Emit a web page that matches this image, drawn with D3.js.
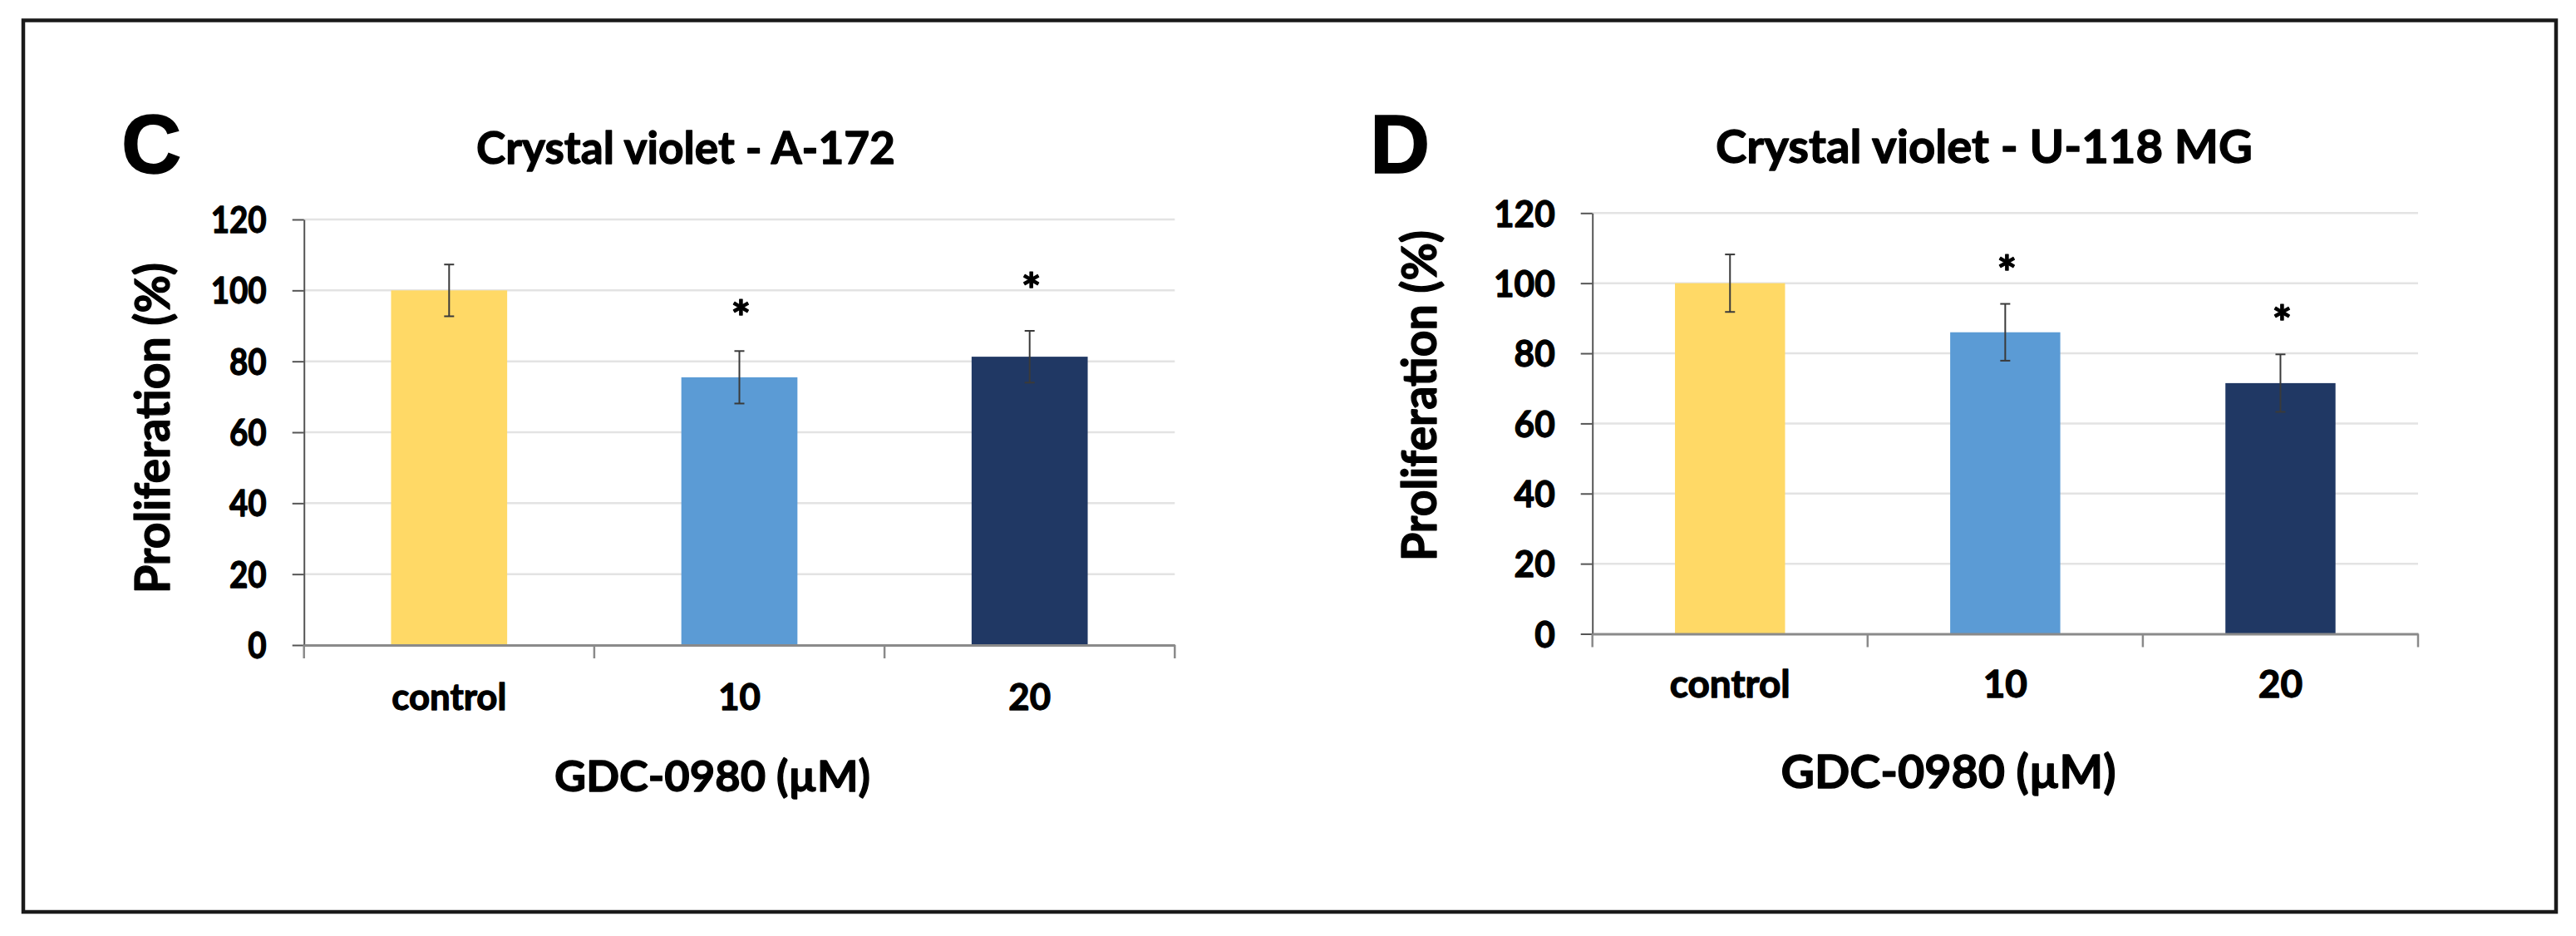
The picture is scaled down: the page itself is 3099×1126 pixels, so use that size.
<!DOCTYPE html>
<html>
<head>
<meta charset="utf-8">
<script src="https://cdn.jsdelivr.net/npm/d3@7/dist/d3.min.js"></script>
<style>
  html, body { margin: 0; padding: 0; background: #ffffff; }
  svg { display: block; }
</style>
</head>
<body>
<svg id="chart" width="3099" height="1126"></svg>
<script>
// ---------------- data ----------------
const categories = ["control", "10", "20"];
const yTicks = [0, 20, 40, 60, 80, 100, 120];
const barColors = ["#FFD966", "#5B9BD5", "#203864"];

const a172Title = "Crystal violet - A-172";
const a172Mean = [100, 75.5, 81.3];
const a172Err  = [7.3, 7.4, 7.3];
const a172Star = [null, 95, 102.8];

const u118Title = "Crystal violet - U-118 MG";
const u118Mean = [100, 86, 71.5];
const u118Err  = [8.2, 8.1, 8.2];
const u118Star = [null, 105.6, 91.4];

const xAxisTitle = "GDC-0980 (µM)";
const yAxisTitle = "Proliferation (%)";
const panelLetters = ["C", "D"];

// ---------------- layout ----------------
const svg = d3.select("#chart");
const CAL = "Lato, 'Open Sans', sans-serif";
const TEXT_STROKE = 1.3;

svg.append("rect")
  .attr("x", 28).attr("y", 24.5)
  .attr("width", 3047).attr("height", 1072.5)
  .attr("fill", "none").attr("stroke", "#1a1a1a").attr("stroke-width", 4.5);

const panels = [
  { letter: panelLetters[0], title: a172Title, mean: a172Mean, err: a172Err, star: a172Star,
    x0: 365.7, x1: 1413.3, yBottom: 776, yTop: 264,
    letterX: 146, letterY: 208,
    titleCx: 825, titleBase: 197, titleW: 504,
    xTitleCx: 857, xTitleBase: 952, xTitleW: 380,
    yTitleX: 204, yTitleCy: 515, yTitleW: 398,
    catBase: 854, ctrlW: 138, numW: 67, numFs: 43 },
  { letter: panelLetters[1], title: u118Title, mean: u118Mean, err: u118Err, star: u118Star,
    x0: 1915.7, x1: 2909, yBottom: 762.5, yTop: 256.3,
    letterX: 1648, letterY: 208,
    titleCx: 2387, titleBase: 196, titleW: 646,
    xTitleCx: 2344, xTitleBase: 948, xTitleW: 403,
    yTitleX: 1728, yTitleCy: 476, yTitleW: 398,
    catBase: 839, ctrlW: 145, numW: 73.7, numFs: 44 }
];

function fitSize(sel, targetW) {
  const base = parseFloat(sel.attr("font-size"));
  const w = sel.node().getComputedTextLength();
  const fs = base * targetW / w;
  sel.attr("font-size", fs);
  return fs;
}
function measure(str, family, weight, size) {
  const t = svg.append("text").attr("font-family", family).attr("font-weight", weight)
    .attr("font-size", size).text(str);
  const w = t.node().getComputedTextLength();
  t.remove();
  return w;
}
function bold(sel) {
  return sel.attr("fill", "#000").attr("stroke", "#000").attr("stroke-width", TEXT_STROKE)
    .attr("stroke-linejoin", "round");
}

panels.forEach(p => {
  const g = svg.append("g");

  const x = d3.scaleBand().domain(categories).range([p.x0, p.x1])
    .paddingInner(0.6).paddingOuter(0.3);
  const y = d3.scaleLinear().domain([0, 120]).range([p.yBottom, p.yTop]);
  const step = x.step();
  const bw = x.bandwidth();

  const catFs = 46 * p.ctrlW / measure("control", CAL, 700, 46);
  const numK = p.numW / measure("120", CAL, 700, p.numFs);

  // gridlines
  g.append("g").selectAll("line")
    .data(yTicks.filter(v => v > 0))
    .join("line")
    .attr("x1", p.x0).attr("x2", p.x1)
    .attr("y1", d => y(d)).attr("y2", d => y(d))
    .attr("stroke", "#e3e3e3").attr("stroke-width", 2.5);

  // bars
  g.append("g").selectAll("rect")
    .data(categories)
    .join("rect")
    .attr("x", d => x(d))
    .attr("width", bw)
    .attr("y", (d, i) => y(p.mean[i]))
    .attr("height", (d, i) => y(0) - y(p.mean[i]))
    .attr("fill", (d, i) => barColors[i]);

  // y axis
  const yAxis = g.append("g")
    .attr("transform", `translate(${p.x0},0)`)
    .call(d3.axisLeft(y).tickValues(yTicks).tickSize(14).tickSizeOuter(0).tickPadding(31));
  yAxis.select(".domain").attr("stroke", "#555").attr("stroke-width", 2);
  yAxis.selectAll(".tick line").attr("stroke", "#555").attr("stroke-width", 2);
  const yLab = yAxis.selectAll(".tick text")
    .attr("font-family", CAL).attr("font-weight", 700)
    .attr("font-size", p.numFs).attr("dy", "0.36em");
  bold(yLab);
  yLab.each(function() {
    const w = this.getComputedTextLength();
    d3.select(this).attr("textLength", w * numK).attr("lengthAdjust", "spacingAndGlyphs");
  });

  // x axis (category labels)
  const xAxis = g.append("g")
    .attr("transform", `translate(0,${p.yBottom})`)
    .call(d3.axisBottom(x).tickSize(0).tickSizeOuter(0));
  xAxis.select(".domain").attr("stroke", "#8a8a8a").attr("stroke-width", 3);
  bold(xAxis.selectAll(".tick text")
    .attr("font-family", CAL).attr("font-weight", 700)
    .attr("font-size", catFs)
    .attr("y", p.catBase - p.yBottom).attr("dy", 0));

  // category boundary ticks
  const bounds = d3.range(categories.length + 1).map(i => p.x0 + i * step);
  g.append("g").selectAll("line")
    .data(bounds)
    .join("line")
    .attr("x1", d => d).attr("x2", d => d)
    .attr("y1", p.yBottom).attr("y2", p.yBottom + 16)
    .attr("stroke", "#8a8a8a").attr("stroke-width", 2.5);

  // error bars
  const eb = g.append("g").attr("stroke", "#3a3a3a").attr("stroke-width", 2).attr("fill", "none");
  categories.forEach((c, i) => {
    const cx = x(c) + bw / 2;
    const top = y(p.mean[i] + p.err[i]);
    const bot = y(p.mean[i] - p.err[i]);
    eb.append("line").attr("x1", cx).attr("x2", cx).attr("y1", top).attr("y2", bot);
    eb.append("line").attr("x1", cx - 6).attr("x2", cx + 6).attr("y1", top).attr("y2", top);
    eb.append("line").attr("x1", cx - 6).attr("x2", cx + 6).attr("y1", bot).attr("y2", bot);
  });

  // significance stars
  const starFs = 56;
  bold(g.append("g").selectAll("text")
    .data(categories.map((c, i) => ({ c, v: p.star[i] })).filter(d => d.v != null))
    .join("text")
    .attr("x", d => x(d.c) + bw / 2 + 2)
    .attr("y", d => y(d.v) + 0.56 * starFs)
    .attr("text-anchor", "middle")
    .attr("font-family", CAL).attr("font-weight", 700)
    .attr("font-size", starFs)
    .text("*"));

  // panel letter
  g.append("text")
    .attr("x", p.letterX).attr("y", p.letterY)
    .attr("font-family", "'Liberation Sans', Arial, sans-serif").attr("font-weight", 700)
    .attr("font-size", 100).attr("fill", "#000")
    .attr("stroke", "#000").attr("stroke-width", 1.5)
    .text(p.letter);

  // chart title
  const t = bold(g.append("text")
    .attr("x", p.titleCx).attr("y", p.titleBase)
    .attr("text-anchor", "middle")
    .attr("font-family", CAL).attr("font-weight", 700)
    .attr("font-size", 56)
    .text(p.title));
  fitSize(t, p.titleW);

  // x axis title
  const xt = bold(g.append("text")
    .attr("x", p.xTitleCx).attr("y", p.xTitleBase)
    .attr("text-anchor", "middle")
    .attr("font-family", CAL).attr("font-weight", 700)
    .attr("font-size", 58)
    .text(xAxisTitle));
  fitSize(xt, p.xTitleW);

  // y axis title (slightly condensed, taller letters)
  bold(g.append("text")
    .attr("transform", `translate(${p.yTitleX},${p.yTitleCy}) rotate(-90)`)
    .attr("text-anchor", "middle")
    .attr("font-family", CAL).attr("font-weight", 700)
    .attr("font-size", 57)
    .attr("textLength", p.yTitleW).attr("lengthAdjust", "spacingAndGlyphs")
    .attr("stroke-width", 1.6)
    .text(yAxisTitle));
});
</script>
</body>
</html>
